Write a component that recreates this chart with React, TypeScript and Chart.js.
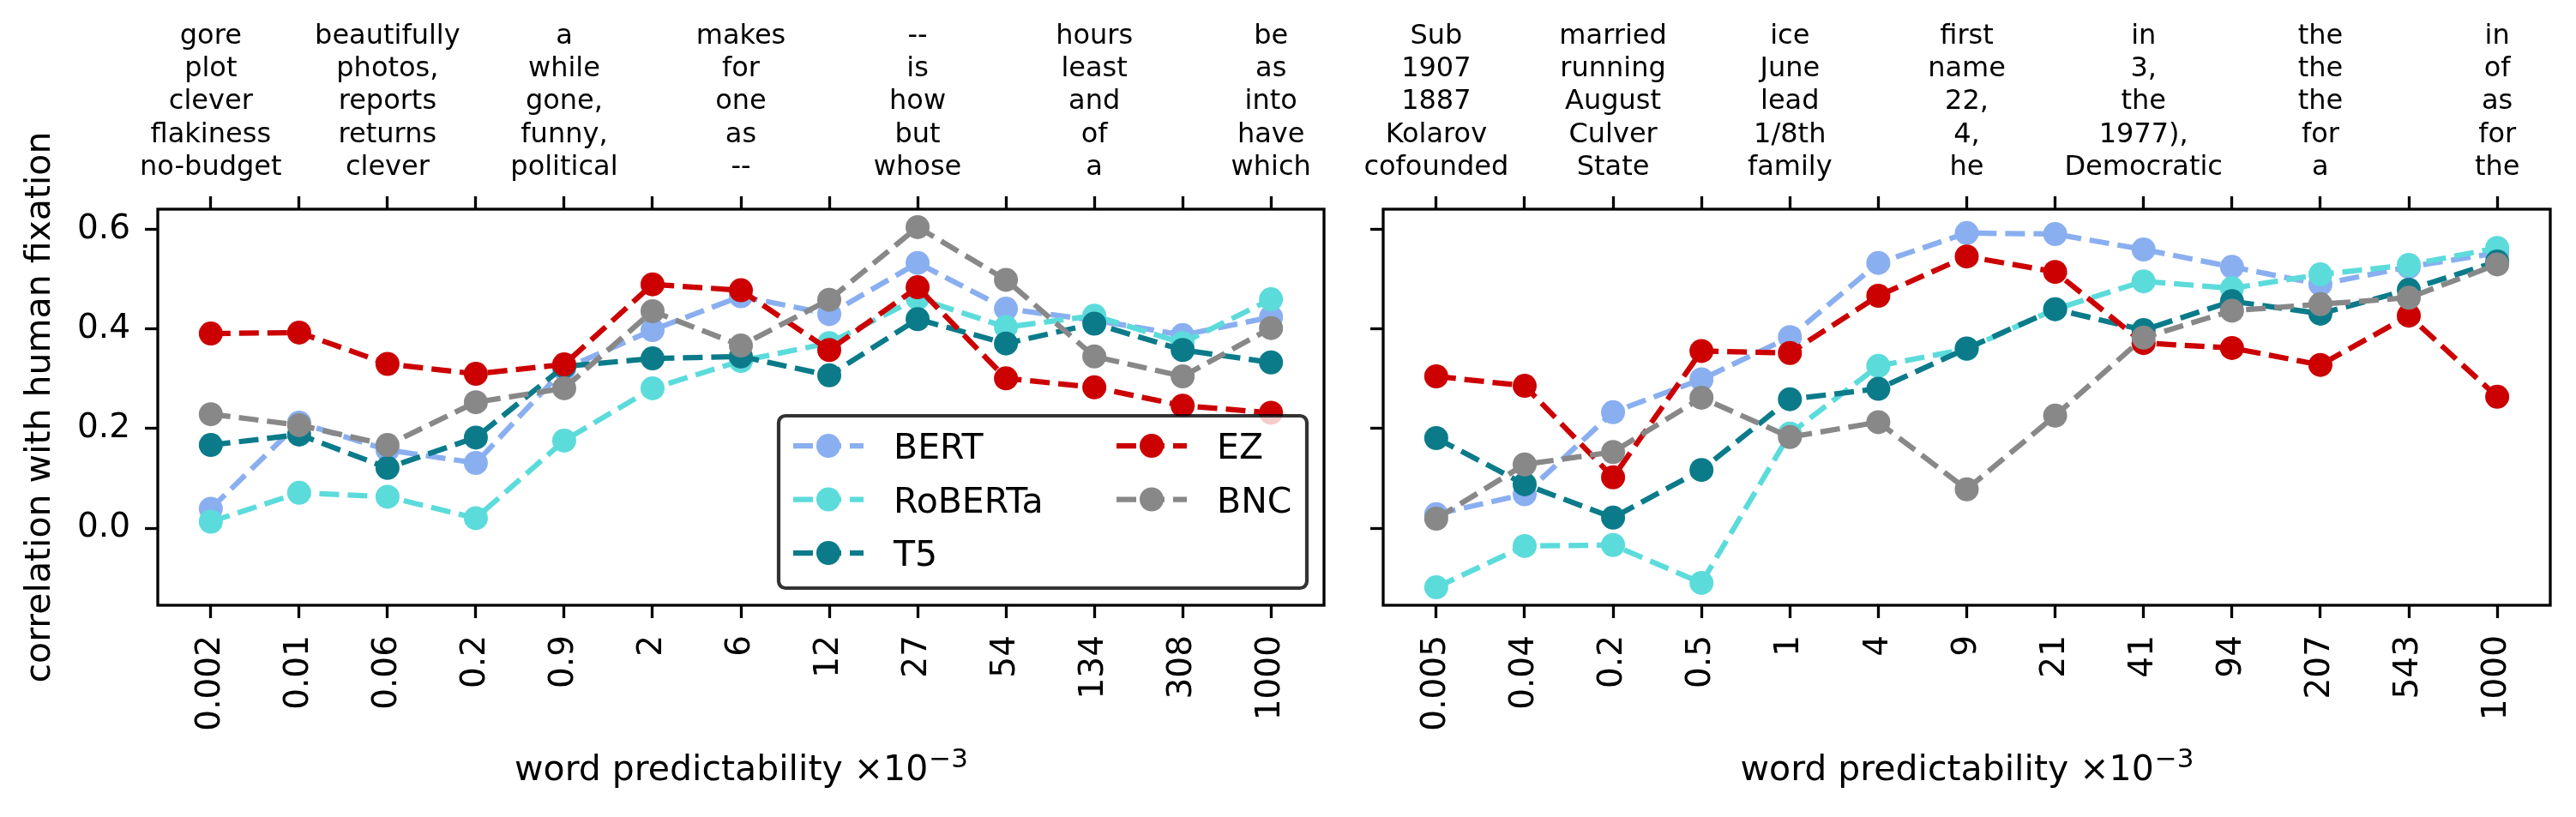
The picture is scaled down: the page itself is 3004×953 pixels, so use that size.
import { useEffect, useRef } from "react"
import { Chart, registerables } from "chart.js"

Chart.register(...registerables)

const FONT = "DejaVu Sans"

const seriesNames = ["BERT", "RoBERTa", "T5", "EZ", "BNC"]
const seriesColors = ["#8aaff0", "#5cdbdb", "#0b7b8a", "#cc0000", "#888888"]

// predictability bins (x10^-3), bottom axis
const leftBins = ["0.002", "0.01", "0.06", "0.2", "0.9", "2", "6", "12", "27", "54", "134", "308", "1000"]
const rightBins = ["0.005", "0.04", "0.2", "0.5", "1", "4", "9", "21", "41", "94", "207", "543", "1000"]

// example words per bin, top axis (every other bin)
const leftWords = [
  ["gore", "plot", "clever", "flakiness", "no-budget"], [],
  ["beautifully", "photos,", "reports", "returns", "clever"], [],
  ["a", "while", "gone,", "funny,", "political"], [],
  ["makes", "for", "one", "as", "--"], [],
  ["--", "is", "how", "but", "whose"], [],
  ["hours", "least", "and", "of", "a"], [],
  ["be", "as", "into", "have", "which"],
]
const rightWords = [
  ["Sub", "1907", "1887", "Kolarov", "cofounded"], [],
  ["married", "running", "August", "Culver", "State"], [],
  ["ice", "June", "lead", "1/8th", "family"], [],
  ["first", "name", "22,", "4,", "he"], [],
  ["in", "3,", "the", "1977),", "Democratic"], [],
  ["the", "the", "the", "for", "a"], [],
  ["in", "of", "as", "for", "the"],
]

// correlation with human fixation, left panel
const leftBERT = [0.039, 0.212, 0.157, 0.131, 0.32, 0.398, 0.466, 0.43, 0.533, 0.441, 0.418, 0.388, 0.424]
const leftRoBERTa = [0.013, 0.071, 0.063, 0.02, 0.176, 0.281, 0.336, 0.372, 0.462, 0.404, 0.427, 0.372, 0.46]
const leftT5 = [0.167, 0.188, 0.121, 0.182, 0.325, 0.341, 0.345, 0.307, 0.42, 0.371, 0.411, 0.358, 0.333]
const leftEZ = [0.391, 0.393, 0.33, 0.31, 0.329, 0.49, 0.478, 0.358, 0.484, 0.301, 0.283, 0.246, 0.232]
const leftBNC = [0.229, 0.207, 0.167, 0.253, 0.281, 0.436, 0.367, 0.459, 0.605, 0.499, 0.345, 0.305, 0.402]

// right panel
const rightBERT = [0.028, 0.068, 0.233, 0.299, 0.384, 0.533, 0.593, 0.591, 0.56, 0.525, 0.49, 0.525, 0.553]
const rightRoBERTa = [-0.119, -0.036, -0.034, -0.11, 0.19, 0.326, 0.36, 0.44, 0.496, 0.482, 0.51, 0.529, 0.563]
const rightT5 = [0.181, 0.088, 0.021, 0.117, 0.259, 0.28, 0.361, 0.44, 0.398, 0.456, 0.431, 0.479, 0.536]
const rightEZ = [0.305, 0.286, 0.102, 0.356, 0.352, 0.467, 0.546, 0.515, 0.372, 0.362, 0.328, 0.427, 0.264]
const rightBNC = [0.019, 0.128, 0.153, 0.262, 0.183, 0.213, 0.078, 0.226, 0.383, 0.437, 0.45, 0.463, 0.53]

const yTicks = [0, 0.2, 0.4, 0.6]
const yMin = -0.155
const yMax = 0.641

const framePlugin = {
  id: "frame",
  afterDatasetsDraw(chart: Chart) {
    const { ctx, chartArea: a } = chart
    ctx.save()
    ctx.strokeStyle = "#000"
    ctx.lineWidth = 3.3
    ctx.strokeRect(a.left, a.top, a.right - a.left, a.bottom - a.top)
    ctx.restore()
  },
}

// x label with a real superscript, like matplotlib mathtext
const xTitlePlugin = {
  id: "xTitle",
  afterDraw(chart: Chart) {
    const { ctx, chartArea: a } = chart
    const main = "word predictability \u00d710"
    const sup = "\u22123"
    ctx.save()
    ctx.fillStyle = "#000"
    ctx.textBaseline = "alphabetic"
    ctx.textAlign = "left"
    ctx.font = `41px "${FONT}"`
    const w1 = ctx.measureText(main).width
    ctx.font = `31px "${FONT}"`
    const w2 = ctx.measureText(sup).width
    const x0 = (a.left + a.right) / 2 - (w1 + w2) / 2
    const base = 910
    ctx.font = `41px "${FONT}"`
    ctx.fillText(main, x0, base)
    ctx.font = `31px "${FONT}"`
    ctx.fillText(sup, x0 + w1 + 1, base - 15)
    ctx.restore()
  },
}

// matplotlib style legend, two columns, lower right
const legendPlugin = {
  id: "cornerLegend",
  afterDraw(chart: Chart) {
    const { ctx, chartArea: a } = chart
    const w = 616
    const h = 201
    const right = a.right - 20
    const bottom = a.bottom - 20
    const left = right - w
    const top = bottom - h
    ctx.save()
    ctx.beginPath()
    ctx.roundRect(left, top, w, h, 8)
    ctx.fillStyle = "rgba(255,255,255,0.8)"
    ctx.fill()
    ctx.strokeStyle = "rgba(0,0,0,0.8)"
    ctx.lineWidth = 4.2
    ctx.stroke()
    seriesNames.forEach((name, k) => {
      const col = Math.floor(k / 3)
      const row = k % 3
      const hx = left + 17 + col * 377
      const hy = top + 35 + row * 62.5
      ctx.strokeStyle = seriesColors[k]
      ctx.lineWidth = 6.25
      ctx.setLineDash([23, 10])
      ctx.beginPath()
      ctx.moveTo(hx, hy)
      ctx.lineTo(hx + 82, hy)
      ctx.stroke()
      ctx.setLineDash([])
      ctx.fillStyle = seriesColors[k]
      ctx.beginPath()
      ctx.arc(hx + 41, hy, 14, 0, Math.PI * 2)
      ctx.fill()
      ctx.fillStyle = "#000"
      ctx.font = `41px "${FONT}"`
      ctx.textBaseline = "alphabetic"
      ctx.fillText(name, hx + 117, hy + 15)
    })
    ctx.restore()
  },
}

interface PanelProps {
  bins: string[]
  words: string[][]
  values: number[][]
  left: number
  width: number
  yWidth: number
  padRight: number
  showY: boolean
  legend: boolean
}

function Panel({ bins, words, values, left, width, yWidth, padRight, showY, legend }: PanelProps) {
  const chartRef = useRef<HTMLCanvasElement>(null)
  const chartInstance = useRef<Chart | null>(null)

  useEffect(() => {
    if (!chartRef.current) return
    if (chartInstance.current) chartInstance.current.destroy()
    const ctx = chartRef.current.getContext("2d")
    if (!ctx) return

    const positions = bins.map((_, i) => i)
    const tickMarks = {
      display: true,
      drawOnChartArea: false,
      drawTicks: true,
      tickLength: 15,
      tickWidth: 3.3,
      tickColor: "#000",
    }
    const setXTicks = (s: any) => {
      s.ticks = positions.map((v) => ({ value: v }))
    }

    chartInstance.current = new Chart(ctx, {
      type: "line",
      data: {
        datasets: seriesNames.map((name, k) => ({
          label: name,
          data: values[k].map((v, i) => ({ x: i, y: v })),
          borderColor: seriesColors[k],
          backgroundColor: seriesColors[k],
          borderWidth: 6.25,
          borderDash: [23, 10],
          borderCapStyle: "butt" as const,
          pointRadius: 14,
          pointHoverRadius: 14,
          pointBorderWidth: 0,
          tension: 0,
          order: seriesNames.length - k,
          xAxisID: "x",
          yAxisID: "y",
        })),
      },
      options: {
        animation: false,
        responsive: false,
        devicePixelRatio: 1,
        events: [],
        layout: { padding: { left: 0, right: padRight, top: 0, bottom: 0 } },
        plugins: {
          legend: { display: false },
          tooltip: { enabled: false },
        },
        scales: {
          x: {
            type: "linear",
            position: "bottom",
            min: -0.6,
            max: 12.6,
            bounds: "data",
            afterBuildTicks: setXTicks,
            afterFit: (s: any) => {
              s.height = 247
              s.paddingLeft = 0
              s.paddingRight = 0
            },
            ticks: {
              autoSkip: false,
              minRotation: 90,
              maxRotation: 90,
              padding: 20,
              color: "#000",
              font: { family: FONT, size: 39 },
              callback: (_v: any, i: number) => bins[i],
            },
            grid: tickMarks,
            border: { display: false },
          },
          x2: {
            type: "linear",
            position: "top",
            min: -0.6,
            max: 12.6,
            bounds: "data",
            afterBuildTicks: setXTicks,
            afterFit: (s: any) => {
              s.height = 244
              s.paddingLeft = 0
              s.paddingRight = 0
            },
            ticks: {
              autoSkip: false,
              minRotation: 0,
              maxRotation: 0,
              padding: 14,
              color: "#000",
              font: { family: FONT, size: 32, lineHeight: 1.2 },
              callback: (_v: any, i: number) => (words[i].length ? words[i] : ""),
            },
            grid: tickMarks,
            border: { display: false },
          },
          y: {
            type: "linear",
            position: "left",
            min: yMin,
            max: yMax,
            bounds: "data",
            afterBuildTicks: (s: any) => {
              s.ticks = yTicks.map((v) => ({ value: v }))
            },
            afterFit: (s: any) => {
              s.width = yWidth
              s.paddingTop = 0
              s.paddingBottom = 0
            },
            ticks: {
              display: showY,
              padding: 17,
              color: "#000",
              font: { family: FONT, size: 39 },
              callback: (v: any) => Number(v).toFixed(1),
            },
            grid: tickMarks,
            border: { display: false },
            title: {
              display: showY,
              text: "correlation with human fixation",
              color: "#000",
              font: { family: FONT, size: 41 },
              padding: { top: 23, bottom: 0 },
            },
          },
        },
      },
      plugins: legend ? [framePlugin, xTitlePlugin, legendPlugin] : [framePlugin, xTitlePlugin],
    })

    return () => {
      if (chartInstance.current) {
        chartInstance.current.destroy()
        chartInstance.current = null
      }
    }
  }, [bins, words, values, yWidth, padRight, showY, legend])

  return (
    <canvas
      ref={chartRef}
      width={width}
      height={953}
      style={{ position: "absolute", left, top: 0, width, height: 953 }}
    />
  )
}

const leftValues = [leftBERT, leftRoBERTa, leftT5, leftEZ, leftBNC]
const rightValues = [rightBERT, rightRoBERTa, rightT5, rightEZ, rightBNC]

export default function App() {
  return (
    <div style={{ position: "absolute", left: 0, top: 0, width: 3004, height: 953, background: "#fff" }}>
      <Panel
        bins={leftBins}
        words={leftWords}
        values={leftValues}
        left={0}
        width={1580}
        yWidth={184}
        padRight={36}
        showY={true}
        legend={true}
      />
      <Panel
        bins={rightBins}
        words={rightWords}
        values={rightValues}
        left={1580}
        width={1424}
        yWidth={33}
        padRight={30}
        showY={false}
        legend={false}
      />
    </div>
  )
}
